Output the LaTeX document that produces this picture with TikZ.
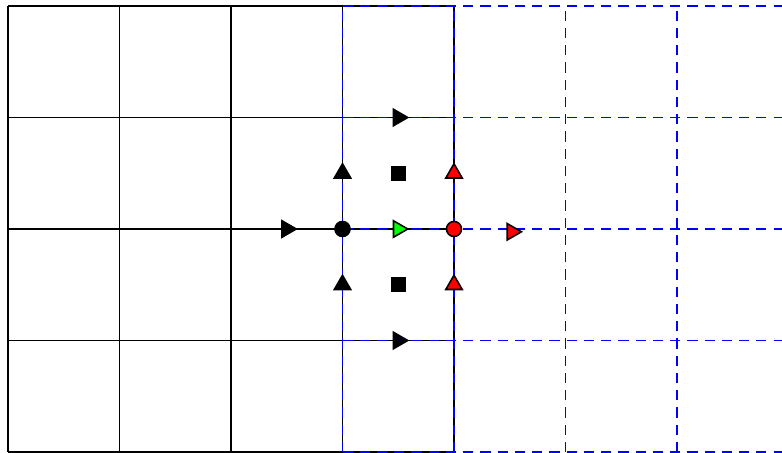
\documentclass[tikz,border=0pt]{standalone}
\usetikzlibrary{shapes.geometric}
\begin{document}
\begin{tikzpicture}[x=1cm, y=1cm,
					dreieck/.style={regular polygon, regular polygon sides=3, draw=black, fill=#1, inner sep=0pt, outer sep=0pt, minimum size=0.17cm},
					flussR/.style={dreieck=#1, shape border rotate=-90},
					flussO/.style={dreieck=#1},
					zelle/.style={rectangle, fill=black, inner sep=0pt, minimum size=0.135cm},
					knoten/.style={circle, draw=black, fill=#1, inner sep=0pt, minimum size=0.135cm},
					geist/.style={blue, dash pattern=on 2.6pt off 1.8pt}]
					\useasboundingbox (-0.072,-0.009) rectangle (6.942,4.054);
					%Raster zeichnen
					\draw[color=black] (0,0) grid (4,4);
					% verschobenes Raster
					\begin{scope}
					\clip (-0.072,-0.009) rectangle (6.942,4.054); %Bildbereich
					\draw[geist] (3,0) grid (7,4);
					\end{scope}
					% Flusspunkte waagrecht
					\node[flussR=black] (uOben) at (3.5,3) {};
					\node[flussR=black] (uLinks) at (2.5,2) {};
					\node[flussR=green] (uMitte) at (3.5,2) {};
					\node[flussR=black] (uUnten) at (3.5,1) {};
					\node[flussR=red] (uGeist) at (4.52,1.975) {};
					% Flusspunkte senkrecht
					\node[flussO=black] (vLO) at (3,2.5) {};
					\node[flussO=black] (vLU) at (3,1.5) {};
					\node[flussO=red] (vRO) at (4,2.5) {};
					\node[flussO=red] (vRU) at (4,1.5) {};
					% Zellmitten
					\node[zelle] (mOben) at (3.5,2.5) {};
					\node[zelle] (mUnten) at (3.5,1.5) {};
					% Ecken
					\node[knoten=black] (pLinks) at (3,2) {};
					\node[knoten=red] (pRechts) at (4,2) {};
				\end{tikzpicture}
\end{document}
